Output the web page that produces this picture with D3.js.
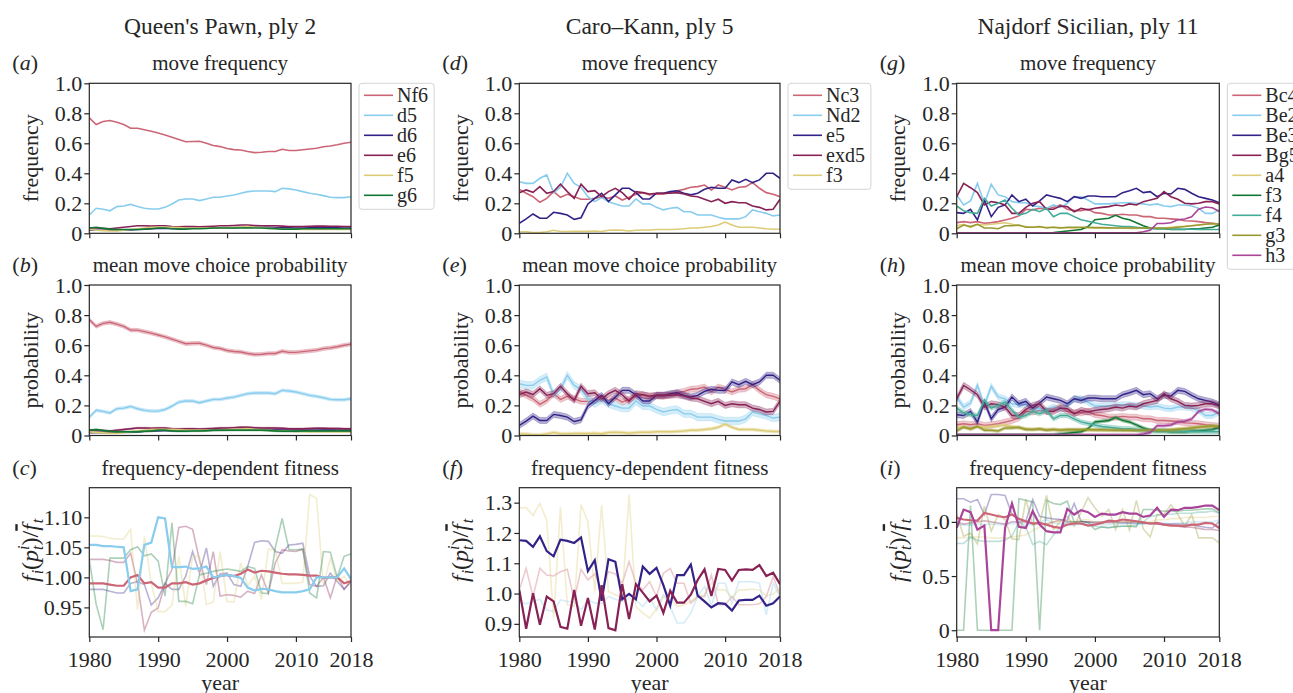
<!DOCTYPE html>
<html>
<head>
<meta charset="utf-8">
<script src="https://cdn.jsdelivr.net/npm/d3@7"></script>
<style>
  body { margin: 0; background: #fff; }
  text { font-family: "Liberation Serif", "Times New Roman", serif; fill: #262626; }
</style>
</head>
<body>
<svg id="fig" width="1293" height="693"></svg>
<script>
const years = d3.range(1980, 2019);
const xTicks = [1980, 1990, 2000, 2010, 2018];

const openings = ["Queen's Pawn, ply 2", "Caro\u2013Kann, ply 5", "Najdorf Sicilian, ply 11"];
const panelTitles = ["move frequency", "mean move choice probability", "frequency-dependent fitness"];
const panelLetters = [["a", "b", "c"], ["d", "e", "f"], ["g", "h", "i"]];
const yLabels = ["frequency", "probability"];

// ---- Queen's Pawn, ply 2
const qpMoves = ["Nf6", "d5", "d6", "e6", "f5", "g6"];
const qpFreq = [
  [.77,.725,.745,.752,.74,.725,.70,.70,.69,.68,.668,.655,.64,.625,.61,.612,.613,.60,.585,.578,.565,.558,.555,.545,.538,.54,.545,.545,.56,.552,.552,.557,.562,.567,.577,.582,.59,.60,.607],
  [.122,.167,.16,.15,.178,.182,.193,.178,.167,.162,.162,.173,.195,.222,.229,.229,.218,.229,.24,.24,.249,.255,.267,.278,.282,.282,.282,.278,.30,.296,.289,.278,.267,.26,.251,.24,.238,.238,.244],
  [.02,.02,.02,.02,.022,.022,.022,.025,.028,.03,.032,.033,.033,.033,.035,.035,.035,.035,.035,.037,.038,.038,.04,.04,.04,.04,.04,.038,.037,.036,.035,.035,.036,.036,.037,.037,.036,.035,.035],
  [.035,.035,.033,.03,.035,.04,.045,.05,.05,.048,.05,.05,.045,.043,.045,.045,.043,.045,.047,.05,.05,.052,.055,.055,.052,.05,.05,.05,.048,.045,.045,.045,.047,.048,.048,.047,.047,.045,.045],
  [.025,.02,.018,.015,.015,.02,.025,.03,.035,.04,.04,.04,.04,.038,.035,.035,.035,.035,.035,.035,.038,.04,.042,.045,.04,.038,.035,.032,.03,.028,.027,.026,.025,.025,.025,.025,.025,.025,.025],
  [.035,.04,.033,.028,.025,.025,.025,.025,.028,.03,.035,.035,.03,.028,.028,.03,.03,.032,.035,.035,.035,.035,.035,.035,.035,.035,.033,.03,.028,.028,.028,.03,.03,.03,.03,.03,.03,.03,.03]
];
const qpBand = [.012, .01, .005, .005, .005, .005];
const qpFit = [
  [.99,.99,.99,.988,.986,.986,1.0,1.004,.99,.992,.983,.983,.99,.99,.992,.988,.99,.995,.999,1.002,1.004,1.002,1.006,1.013,1.008,1.011,1.01,1.008,1.006,1.005,1.005,1.004,1.003,1.003,.999,1.0,1.0,.99,.994],
  [1.054,1.054,1.052,1.052,1.051,1.05,.977,.98,1.054,1.058,1.10,1.098,1.017,1.017,1.018,1.014,1.015,1.018,1.0,1.002,1.004,1.002,.999,.983,.978,.981,.98,.977,.975,.975,.975,.977,.98,1.0,1.0,1.0,1.0,1.015,.997],
  [.98,.98,.98,.977,.974,.974,.99,.993,.988,.954,.966,.99,.98,.98,1.002,1.043,1.007,1.049,.985,1.006,1.007,.988,.985,1.018,1.058,1.061,1.06,1.043,1.04,1.054,1.055,1.057,1.002,.985,.986,1.007,.993,.98,.993],
  [1.03,1.03,1.03,1.028,1.025,1.025,1.04,.99,.912,.942,.949,.99,1.013,1.083,1.085,1.08,1.029,.988,1.043,.969,.971,.97,.967,.977,.973,1.004,.974,1.024,1.046,1.044,1.043,1.047,.988,.985,1.0,.966,1.003,.98,.994],
  [1.069,1.069,1.068,1.065,1.064,1.064,1.08,.946,1.068,.99,.943,.943,.954,1.035,.952,1.035,1.035,.955,.959,1.043,.96,.959,1.024,.986,1.002,.963,1.047,1.046,.99,.99,.99,.992,1.138,1.131,.985,1.032,.993,1.002,.985],
  [1.03,.955,.913,1.032,1.032,1.032,1.046,1.051,1.036,1.039,1.027,.969,1.091,.96,.96,.956,1.004,1.007,1.01,1.012,1.014,1.012,1.01,1.018,1.015,.974,.973,1.049,1.098,1.046,1.046,1.047,.974,.966,1.043,1.042,1.0,1.035,1.039]
];
const qpHighlight = ["Nf6", "d5"];
const qpFitTicks = [0.95, 1.00, 1.05, 1.10];

// ---- Caro-Kann, ply 5
const ckMoves = ["Nc3", "Nd2", "e5", "exd5", "f3"];
const ckFreq = [
  [.293,.267,.244,.207,.233,.278,.24,.26,.244,.227,.227,.233,.244,.233,.249,.222,.24,.26,.271,.256,.262,.26,.271,.284,.293,.307,.311,.322,.289,.322,.307,.289,.307,.311,.338,.30,.271,.26,.244],
  [.344,.333,.333,.367,.389,.271,.307,.40,.333,.307,.244,.211,.238,.211,.196,.182,.182,.229,.196,.196,.173,.156,.167,.173,.144,.144,.122,.122,.122,.107,.096,.096,.096,.111,.156,.144,.133,.116,.122],
  [.067,.096,.129,.10,.10,.14,.133,.122,.093,.104,.196,.233,.267,.211,.256,.30,.30,.271,.229,.229,.267,.267,.278,.284,.267,.256,.267,.293,.307,.30,.30,.356,.338,.36,.338,.356,.40,.40,.367],
  [.271,.289,.273,.311,.267,.278,.327,.278,.233,.327,.278,.284,.244,.278,.30,.271,.227,.278,.271,.262,.267,.267,.267,.271,.262,.249,.244,.227,.211,.227,.20,.211,.204,.204,.182,.173,.156,.16,.227],
  [.01,.01,.005,.005,.01,.02,.012,.012,.013,.013,.013,.015,.012,.02,.022,.02,.015,.02,.022,.022,.025,.025,.025,.027,.03,.035,.035,.04,.045,.055,.075,.055,.04,.04,.04,.035,.03,.027,.027]
];
const ckBand = [.02, .025, .02, .02, .01];
const ckFit = [
  [1.012,1.083,.99,1.083,1.061,1.058,1.072,1.08,.979,1.08,1.045,1.065,1.012,1.072,1.065,1.034,1.105,1.034,1.012,1.039,.99,1.067,1.083,1.034,1.034,.968,.99,.99,1.061,.963,.963,.99,.963,.963,.963,.966,.99,1.056,.996],
  [.974,.966,.974,.981,.946,.941,.979,.974,.974,.946,.979,.968,.968,.99,.981,.974,.985,.979,.957,.985,.946,.996,.957,.903,.903,.936,.99,1.023,.96,1.034,1.034,.968,1.039,1.039,1.039,1.034,.93,1.034,.99],
  [1.176,1.174,1.154,1.189,1.14,1.123,1.178,1.174,1.167,1.185,1.074,1.11,.976,1.113,1.105,.981,.999,.981,1.089,1.065,1.085,1.028,.96,1.061,1.061,1.096,.993,.974,.954,.968,.966,.944,.977,.979,.979,.993,.96,.968,.99],
  [1.012,.884,1.001,.897,.99,.974,.89,.884,1.012,.894,.985,.881,1.028,.886,.879,1.031,.916,1.031,1.003,.974,.993,.936,1.009,.97,.97,.996,1.045,1.08,.992,1.081,1.078,1.043,1.078,1.08,1.078,1.094,1.058,1.069,1.031],
  [1.283,1.283,1.258,1.298,1.242,.919,1.285,.963,.957,1.294,1.236,1.007,1.291,1.007,.996,.985,1.327,.957,.936,.919,.949,.99,.985,.957,.963,.974,.99,.996,1.034,1.012,1.012,.985,1.012,1.012,1.014,1.012,.992,.999,1.017]
];
const ckHighlight = ["e5", "exd5"];
const ckFitTicks = [0.9, 1.0, 1.1, 1.2, 1.3];

// ---- Najdorf Sicilian, ply 11
const ndMoves = ["Bc4", "Be2", "Be3", "Bg5", "a4", "f3", "f4", "g3", "h3"];
const ndFreq = [
  [.071,.078,.071,.078,.067,.071,.078,.089,.10,.116,.16,.156,.167,.16,.173,.189,.16,.151,.151,.16,.138,.133,.122,.122,.127,.122,.122,.111,.111,.10,.10,.096,.093,.084,.082,.078,.071,.067,.062],
  [.256,.189,.216,.333,.20,.327,.256,.244,.211,.204,.204,.182,.178,.167,.189,.173,.20,.244,.244,.222,.196,.196,.196,.20,.204,.204,.20,.196,.189,.196,.182,.178,.189,.189,.182,.167,.133,.133,.156],
  [.138,.133,.16,.089,.222,.111,.173,.189,.256,.211,.227,.182,.216,.256,.244,.233,.211,.244,.233,.249,.249,.244,.244,.244,.271,.284,.30,.271,.278,.244,.267,.262,.30,.293,.267,.244,.233,.222,.204],
  [.244,.333,.304,.271,.189,.211,.204,.189,.133,.133,.173,.20,.211,.16,.16,.182,.178,.144,.167,.156,.167,.173,.178,.189,.182,.196,.189,.211,.222,.233,.278,.244,.227,.20,.196,.20,.211,.211,.196],
  [.05,.06,.04,.06,.055,.06,.065,.07,.06,.05,.045,.04,.04,.04,.04,.038,.035,.035,.035,.035,.035,.035,.035,.035,.035,.033,.033,.035,.035,.035,.035,.04,.045,.045,.05,.055,.06,.06,.06],
  [.003,.003,.003,.003,.003,.003,.003,.003,.003,.003,.003,.003,.003,.003,.005,.01,.015,.02,.025,.045,.09,.095,.10,.12,.10,.09,.07,.05,.035,.03,.03,.025,.025,.025,.03,.03,.035,.04,.055],
  [.182,.151,.138,.133,.233,.182,.20,.222,.167,.122,.133,.16,.144,.167,.111,.133,.133,.111,.09,.08,.07,.06,.055,.05,.045,.045,.04,.035,.03,.03,.03,.028,.028,.027,.027,.026,.025,.025,.025],
  [.03,.055,.045,.06,.035,.035,.03,.05,.05,.055,.04,.04,.045,.035,.04,.035,.04,.04,.04,.04,.038,.038,.036,.035,.035,.035,.035,.035,.035,.035,.035,.035,.04,.045,.05,.055,.06,.065,.06],
  [.003,.003,.003,.003,.003,.003,.003,.003,.003,.003,.003,.003,.003,.003,.003,.003,.003,.003,.003,.003,.003,.003,.003,.003,.003,.003,.003,.01,.02,.065,.065,.07,.09,.095,.11,.16,.175,.17,.145]
];
const ndBand = [.02, .02, .02, .02, .01, .01, .015, .01, .01];
const ndFit = [
  [1.037,1.022,1.015,1.012,1.083,1.068,1.052,1.043,1.068,1.028,1.006,.985,.991,.975,.954,.944,.975,.985,.985,.966,.975,.991,1.012,1.006,1.022,1.015,1.006,.997,.985,.991,.975,.966,.966,.96,.975,.975,.991,.985,.944],
  [.975,.97,.97,.98,.975,.98,.975,.975,.98,.99,.98,.97,1.0,1.02,.99,.98,.975,.97,.98,.985,.98,.975,.975,.98,.98,.985,.98,.98,.99,.99,.99,.985,.99,.99,1.0,1.0,1.0,1.0,1.02],
  [1.213,1.213,1.182,1.207,1.068,1.253,1.253,1.244,1.068,1.022,1.006,1.207,1.052,1.037,1.028,1.022,1.015,1.17,1.006,.997,1.0,1.0,.995,.995,.99,.99,.99,.985,.985,.98,.98,.98,.98,.978,.975,.96,.95,.944,1.006],
  [1.0,.98,.99,1.0,1.01,1.0,.99,.98,1.0,1.0,1.0,.99,.98,.98,1.0,1.02,1.0,1.0,1.0,1.0,.99,.99,1.0,1.0,1.0,1.0,1.0,.99,.99,.98,.97,.97,.96,.95,.95,.94,.93,.93,.92],
  [.852,.852,.861,.861,.861,.852,.85,.85,.86,.87,.88,.92,.95,.98,1.0,1.0,1.01,1.0,1.02,1.02,1.0,1.0,.99,1.0,1.0,1.01,1.0,1.0,1.0,1.02,1.02,1.03,1.03,1.04,1.04,1.04,1.04,1.05,1.05],
  [0,0,1.151,0,0,0,0,0,0,1.213,1.2,1.182,0,1.2,1.17,1.16,1.191,.997,1.006,.997,.929,.954,.944,.96,.96,.96,.954,1.114,1.114,1.108,1.099,1.099,1.099,1.108,1.108,1.114,1.12,1.12,1.083],
  [.80,.80,.86,.83,.82,.82,.82,.83,.87,1.0,.95,.79,.82,.79,.88,.95,1.0,1.0,.98,.97,.96,.95,.95,.95,.96,.96,.97,1.0,1.05,1.06,1.07,1.07,1.08,1.08,1.08,1.09,1.09,1.1,1.08],
  [1.068,.867,.898,.796,1.145,.914,1.068,1.022,.843,.836,1.207,.975,.991,1.244,.929,1.006,1.052,.96,1.09,1.222,1.13,1.052,1.114,.929,1.114,.923,1.198,.935,.861,1.068,1.068,1.16,1.068,.96,1.068,.852,.852,.852,.806],
  [.944,1.114,1.09,.929,.966,0,0,.944,1.17,.954,.944,1.099,.975,.914,.904,.904,1.12,1.068,1.108,1.09,1.046,1.077,1.068,1.068,1.09,1.077,1.077,1.046,1.059,1.13,1.046,1.114,1.108,1.13,1.13,1.139,1.151,1.151,1.108]
];
const ndHighlight = ["Bc4", "h3"];
const ndFitTicks = [0, 0.5, 1.0];

const palette = ["#CC6677", "#88CCEE", "#332288", "#882255", "#DDCC77", "#117733", "#44AA99", "#999933", "#AA4499"];

const columns = [
  { moves: qpMoves, freq: qpFreq, band: qpBand, fit: qpFit, hi: qpHighlight, fitTicks: qpFitTicks, fitFmt: d3.format(".2f") },
  { moves: ckMoves, freq: ckFreq, band: ckBand, fit: ckFit, hi: ckHighlight, fitTicks: ckFitTicks, fitFmt: d3.format(".1f") },
  { moves: ndMoves, freq: ndFreq, band: ndBand, fit: ndFit, hi: ndHighlight, fitTicks: ndFitTicks, fitFmt: d => d === 0 ? "0" : d3.format(".1f")(d) }
];

// layout
const colBox = [{ left: 89.3, right: 351 }, { left: 519.3, right: 780 }, { left: 956.7, right: 1219.3 }];
const rowBox = [{ top: 83.3, bottom: 233.3 }, { top: 285, bottom: 435.5 }, { top: 487.7, bottom: 637 }];
const fs = 21;
const tickFs = 22;

const svg = d3.select("#fig");
const defs = svg.append("defs");
const probTicks = [0, 0.2, 0.4, 0.6, 0.8, 1.0];
const probFmt = d => d === 0 ? "0" : d3.format(".1f")(d);

columns.forEach((col, ci) => {
  const cb = colBox[ci];
  const x = d3.scaleLinear().domain([1980, 2018]).range([cb.left, cb.right]);
  const midX = (cb.left + cb.right) / 2;

  svg.append("text")
    .attr("x", midX).attr("y", 34)
    .attr("text-anchor", "middle")
    .attr("font-size", 23.5)
    .text(openings[ci]);

  rowBox.forEach((rb, ri) => {
    const g = svg.append("g");
    const clipId = `clip-${ci}-${ri}`;
    defs.append("clipPath").attr("id", clipId)
      .append("rect")
      .attr("x", cb.left).attr("y", rb.top)
      .attr("width", cb.right - cb.left).attr("height", rb.bottom - rb.top);

    let y;
    if (ri < 2) {
      y = d3.scaleLinear().domain([0, 1]).range([rb.bottom, rb.top]);
    } else {
      const ext = d3.extent(col.fit.flat());
      const pad = (ext[1] - ext[0]) * 0.05;
      y = d3.scaleLinear().domain([ext[0] - pad, ext[1] + pad]).range([rb.bottom, rb.top]);
    }

    const line = d3.line().x((d, i) => x(years[i])).y(d => y(d));
    const plot = g.append("g").attr("clip-path", `url(#${clipId})`);

    if (ri === 0) {
      col.freq.forEach((s, si) => {
        plot.append("path").datum(s)
          .attr("d", line)
          .attr("fill", "none")
          .attr("stroke", palette[si])
          .attr("stroke-width", 1.6);
      });
    } else if (ri === 1) {
      col.freq.forEach((s, si) => {
        const hw = col.band[si];
        const area = d3.area()
          .x((d, i) => x(years[i]))
          .y0(d => y(d - hw)).y1(d => y(d + hw));
        plot.append("path").datum(s)
          .attr("d", area)
          .attr("fill", palette[si])
          .attr("fill-opacity", 0.35)
          .attr("stroke", palette[si])
          .attr("stroke-opacity", 0.35)
          .attr("stroke-width", 0.8);
        plot.append("path").datum(s)
          .attr("d", line)
          .attr("fill", "none")
          .attr("stroke", palette[si])
          .attr("stroke-width", 1.4);
      });
    } else {
      const order = col.moves.map((m, i) => i)
        .sort((a, b) => col.hi.includes(col.moves[a]) - col.hi.includes(col.moves[b]));
      order.forEach(si => {
        const bold = col.hi.includes(col.moves[si]);
        plot.append("path").datum(col.fit[si])
          .attr("d", line)
          .attr("fill", "none")
          .attr("stroke", palette[si])
          .attr("stroke-opacity", bold ? 1 : 0.35)
          .attr("stroke-width", bold ? 2.2 : 1.6);
      });
    }

    // axes
    const yAxis = d3.axisLeft(y)
      .tickValues(ri < 2 ? probTicks : col.fitTicks)
      .tickFormat(ri < 2 ? probFmt : col.fitFmt)
      .tickSize(5).tickPadding(2);
    const ya = g.append("g").attr("transform", `translate(${cb.left},0)`).call(yAxis);
    const xAxis = d3.axisBottom(x)
      .tickValues(xTicks)
      .tickFormat(ri === 2 ? d3.format("d") : () => "")
      .tickSize(5).tickPadding(9);
    const xa = g.append("g").attr("transform", `translate(0,${rb.bottom})`).call(xAxis);
    [ya, xa].forEach(a => {
      a.select(".domain").remove();
      a.selectAll(".tick line").attr("stroke", "#262626").attr("stroke-width", 1.2);
      a.selectAll(".tick text").attr("font-size", tickFs).attr("font-family", "Liberation Serif").attr("fill", "#262626");
    });

    g.append("rect")
      .attr("x", cb.left).attr("y", rb.top)
      .attr("width", cb.right - cb.left).attr("height", rb.bottom - rb.top)
      .attr("fill", "none").attr("stroke", "#262626").attr("stroke-width", 1.2);

    // titles
    g.append("text")
      .attr("x", midX).attr("y", rb.top - 13)
      .attr("text-anchor", "middle").attr("font-size", fs)
      .text(panelTitles[ri]);
    const lt = g.append("text")
      .attr("x", cb.left - 77).attr("y", rb.top - 13)
      .attr("font-size", fs + 1);
    lt.append("tspan").text("(");
    lt.append("tspan").attr("font-style", "italic").text(panelLetters[ci][ri]);
    lt.append("tspan").text(")");

    // y label
    const midY = (rb.top + rb.bottom) / 2;
    if (ri < 2) {
      g.append("text")
        .attr("transform", `translate(${cb.left - 59},${midY}) rotate(-90)`)
        .attr("text-anchor", "middle").attr("dy", "0.35em")
        .attr("font-size", fs + 1)
        .text(yLabels[ri]);
    } else {
      const yl = g.append("text")
        .attr("transform", `translate(${cb.left - 51},${midY - 12}) rotate(-90)`)
        .attr("text-anchor", "middle")
        .attr("font-size", 24);
      yl.append("tspan").attr("font-style", "italic").text("f");
      yl.append("tspan").attr("font-style", "italic").attr("font-size", 16).attr("dx", 1).attr("dy", 5).text("i");
      yl.append("tspan").attr("dy", -5).text("(");
      yl.append("tspan").attr("font-style", "italic").text("p");
      yl.append("tspan").attr("font-style", "italic").attr("font-size", 16).attr("dy", -9).text("i");
      yl.append("tspan").attr("font-style", "italic").attr("font-size", 16).attr("dx", -4.5).attr("dy", 14).text("t");
      yl.append("tspan").attr("dy", -5).text(")/");
      yl.append("tspan").attr("font-style", "italic").style("text-decoration", "overline").text("f");
      yl.append("tspan").attr("font-style", "italic").attr("font-size", 16).attr("dx", 1).attr("dy", 5).text("t");
      g.append("text")
        .attr("x", midX).attr("y", 690)
        .attr("text-anchor", "middle").attr("font-size", fs + 1)
        .text("year");
    }

    // legend
    if (ri === 0) {
      const lg = svg.append("g");
      const lx = cb.right + 8, ly = rb.top;
      const box = lg.append("rect")
        .attr("x", lx).attr("y", ly)
        .attr("rx", 3).attr("height", col.moves.length * 20 + 6)
        .attr("fill", "#fff").attr("stroke", "#d4d4d4").attr("stroke-width", 1);
      let maxW = 0;
      col.moves.forEach((m, si) => {
        const ey = ly + 12 + si * 20;
        lg.append("line")
          .attr("x1", lx + 5).attr("x2", lx + 34)
          .attr("y1", ey).attr("y2", ey)
          .attr("stroke", palette[si]).attr("stroke-width", 1.6);
        const t = lg.append("text")
          .attr("x", lx + 38).attr("y", ey).attr("dy", "0.33em")
          .attr("font-size", 20)
          .text(m);
        maxW = Math.max(maxW, t.node().getComputedTextLength());
      });
      box.attr("width", 38 + maxW + 6);
    }
  });
});
</script>
</body>
</html>
